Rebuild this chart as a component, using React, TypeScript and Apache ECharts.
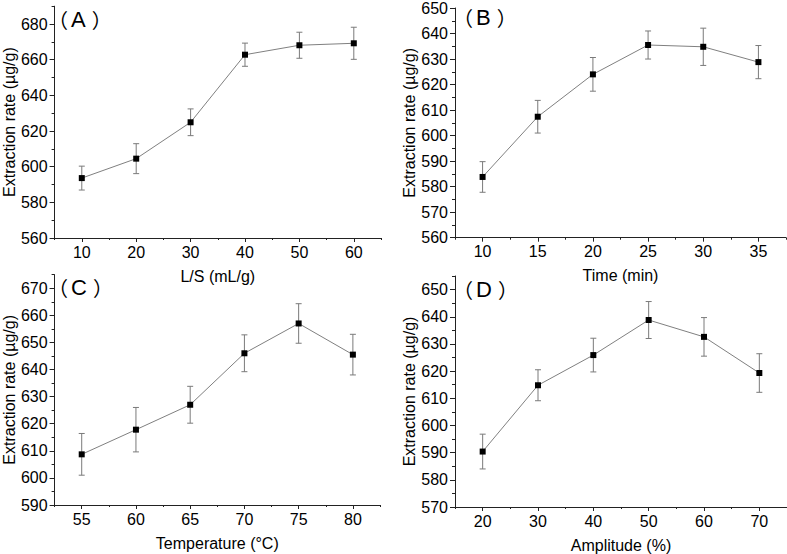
import React, { useEffect, useRef } from 'react';
import * as echarts from 'echarts';

const FONT = 'Liberation Sans';
const CJK = 'Noto Sans CJK SC';

// ---- Data ----
const lsX = [10, 20, 30, 40, 50, 60];
const lsY = [593.6, 604.5, 624.9, 662.8, 668.1, 669.2];
const lsErr = [6.7, 8.4, 7.5, 6.5, 7.3, 9.0];

const timeX = [10, 15, 20, 25, 30, 35];
const timeY = [583.8, 607.4, 624.0, 635.5, 634.8, 628.8];
const timeErr = [6.0, 6.4, 6.6, 5.5, 7.3, 6.5];

const tempX = [55, 60, 65, 70, 75, 80];
const tempY = [608.7, 617.8, 627.0, 646.0, 657.0, 645.5];
const tempErr = [7.7, 8.2, 6.8, 6.8, 7.3, 7.5];

const ampX = [20, 30, 40, 50, 60, 70];
const ampY = [590.4, 614.8, 625.9, 638.8, 632.6, 619.3];
const ampErr = [6.4, 5.7, 6.2, 6.8, 7.1, 7.1];

// ---- Tick labels ----
const aXTicks = [10, 20, 30, 40, 50, 60];
const aXMinor = [5, 15, 25, 35, 45, 55, 65];
const aYTicks = [560, 580, 600, 620, 640, 660, 680];
const aYMinor = [570, 590, 610, 630, 650, 670, 690];

const bXTicks = [10, 15, 20, 25, 30, 35];
const bXMinor = [7.5, 12.5, 17.5, 22.5, 27.5, 32.5, 37.5];
const bYTicks = [560, 570, 580, 590, 600, 610, 620, 630, 640, 650];
const bYMinor = [565, 575, 585, 595, 605, 615, 625, 635, 645];

const cXTicks = [55, 60, 65, 70, 75, 80];
const cXMinor = [52.5, 57.5, 62.5, 67.5, 72.5, 77.5, 82.5];
const cYTicks = [590, 600, 610, 620, 630, 640, 650, 660, 670];
const cYMinor = [595, 605, 615, 625, 635, 645, 655, 665, 675];

const dXTicks = [20, 30, 40, 50, 60, 70];
const dXMinor = [15, 25, 35, 45, 55, 65, 75];
const dYTicks = [570, 580, 590, 600, 610, 620, 630, 640, 650];
const dYMinor = [575, 585, 595, 605, 615, 625, 635, 645, 655];

const panelLetters = ['A', 'B', 'C', 'D'];
const xNames = ['L/S (mL/g)', 'Time (min)', 'Temperature (°C)', 'Amplitude (%)'];
const yName = 'Extraction rate (µg/g)';

const panels = [
  {
    x: lsX, y: lsY, err: lsErr,
    xMin: 5, xMax: 65, yMin: 560, yMax: 690,
    xTicks: aXTicks, xMinor: aXMinor, yTicks: aYTicks, yMinor: aYMinor,
    grid: { left: 51, top: 6.2, width: 330, height: 231.8 },
    labelPos: { x: 48, y: 19 },
  },
  {
    x: timeX, y: timeY, err: timeErr,
    xMin: 7.5, xMax: 37.5, yMin: 560, yMax: 650,
    xTicks: bXTicks, xMinor: bXMinor, yTicks: bYTicks, yMinor: bYMinor,
    grid: { left: 455, top: 6.5, width: 331, height: 231.2 },
    labelPos: { x: 453, y: 17.5 },
  },
  {
    x: tempX, y: tempY, err: tempErr,
    xMin: 52.5, xMax: 82.5, yMin: 590, yMax: 675,
    xTicks: cXTicks, xMinor: cXMinor, yTicks: cYTicks, yMinor: cYMinor,
    grid: { left: 50, top: 274.7, width: 330, height: 230.3 },
    labelPos: { x: 48, y: 287 },
  },
  {
    x: ampX, y: ampY, err: ampErr,
    xMin: 15, xMax: 75, yMin: 570, yMax: 655,
    xTicks: dXTicks, xMinor: dXMinor, yTicks: dYTicks, yMinor: dYMinor,
    grid: { left: 455, top: 276, width: 332, height: 231.7 },
    labelPos: { x: 453, y: 289 },
  },
];

const AXIS_COLOR = '#222';
const LINE_COLOR = '#808080';

function buildOption() {
  const grid: any[] = [];
  const xAxis: any[] = [];
  const yAxis: any[] = [];
  const series: any[] = [];
  const graphic: any[] = [];

  panels.forEach((p, i) => {
    grid.push({ ...p.grid, containLabel: false });
    graphic.push({
      type: 'text',
      x: p.labelPos.x,
      y: p.labelPos.y,
      style: {
        text: '{p|（}{l|' + panelLetters[i] + '}{p|）}',
        verticalAlign: 'middle',
        align: 'left',
        fill: '#000',
        font: '20px ' + FONT,
        rich: {
          p: { fontFamily: CJK, fontSize: 20, fill: '#000' },
          l: { fontFamily: FONT, fontSize: 22, fill: '#000', padding: [0, 6, 0, 3] },
        },
      },
    });
    xAxis.push({
      type: 'value', gridIndex: i, position: 'bottom', min: p.xMin, max: p.xMax,
      name: xNames[i], nameLocation: 'middle', nameGap: 30,
      nameTextStyle: { fontFamily: FONT, fontSize: 16, color: '#000' },
      axisLine: { show: true, lineStyle: { color: AXIS_COLOR, width: 1 } },
      axisTick: { show: true, inside: false, length: 4, customValues: p.xTicks, lineStyle: { color: AXIS_COLOR } },
      axisLabel: { show: true, customValues: p.xTicks, margin: 6, fontFamily: FONT, fontSize: 16, color: '#000' },
      splitLine: { show: false },
    });
    xAxis.push({
      type: 'value', gridIndex: i, position: 'bottom', offset: 0, min: p.xMin, max: p.xMax,
      axisLine: { show: false },
      axisTick: { show: true, inside: false, length: 2, customValues: p.xMinor, lineStyle: { color: AXIS_COLOR } },
      axisLabel: { show: false },
      splitLine: { show: false },
    });
    yAxis.push({
      type: 'value', gridIndex: i, position: 'left', min: p.yMin, max: p.yMax,
      name: yName, nameLocation: 'middle', nameGap: 35,
      nameTextStyle: { fontFamily: FONT, fontSize: 16, color: '#000' },
      axisLine: { show: true, lineStyle: { color: AXIS_COLOR, width: 1 } },
      axisTick: { show: true, inside: false, length: 5, customValues: p.yTicks, lineStyle: { color: AXIS_COLOR } },
      axisLabel: { show: true, customValues: p.yTicks, margin: 7, fontFamily: FONT, fontSize: 16, color: '#000' },
      splitLine: { show: false },
    });
    yAxis.push({
      type: 'value', gridIndex: i, position: 'left', offset: 0, min: p.yMin, max: p.yMax,
      axisLine: { show: false },
      axisTick: { show: true, inside: false, length: 3, customValues: p.yMinor, lineStyle: { color: AXIS_COLOR } },
      axisLabel: { show: false },
      splitLine: { show: false },
    });

    const data = p.x.map((xv, k) => [xv, p.y[k], p.y[k] - p.err[k], p.y[k] + p.err[k]]);

    series.push({
      type: 'custom',
      xAxisIndex: i * 2,
      yAxisIndex: i * 2,
      z: 1,
      data,
      encode: { x: 0, y: [1, 2, 3] },
      renderItem: (params: any, api: any) => {
        const xv = api.value(0);
        const top = api.coord([xv, api.value(3)]);
        const bot = api.coord([xv, api.value(2)]);
        const cap = 3;
        const style = { stroke: '#7a7a7a', lineWidth: 1 };
        return {
          type: 'group',
          children: [
            { type: 'line', shape: { x1: top[0], y1: top[1], x2: bot[0], y2: bot[1] }, style },
            { type: 'line', shape: { x1: top[0] - cap, y1: top[1], x2: top[0] + cap, y2: top[1] }, style },
            { type: 'line', shape: { x1: bot[0] - cap, y1: bot[1], x2: bot[0] + cap, y2: bot[1] }, style },
          ],
        };
      },
    });

    series.push({
      type: 'line',
      xAxisIndex: i * 2,
      yAxisIndex: i * 2,
      z: 3,
      data: p.x.map((xv, k) => [xv, p.y[k]]),
      symbol: 'rect',
      symbolSize: 6,
      itemStyle: { color: '#000' },
      lineStyle: { color: LINE_COLOR, width: 1 },
      clip: false,
    });
  });

  return { animation: false, backgroundColor: '#fff', graphic, grid, xAxis, yAxis, series };
}

export default function App() {
  const ref = useRef<HTMLDivElement>(null);
  useEffect(() => {
    if (!ref.current) return;
    const chart = echarts.init(ref.current, null, { renderer: 'svg' });
    chart.setOption(buildOption() as any);
    return () => chart.dispose();
  }, []);
  return (
    <div
      ref={ref}
      style={{ position: 'fixed', left: 0, top: 0, width: 787, height: 554, background: '#fff' }}
    />
  );
}
